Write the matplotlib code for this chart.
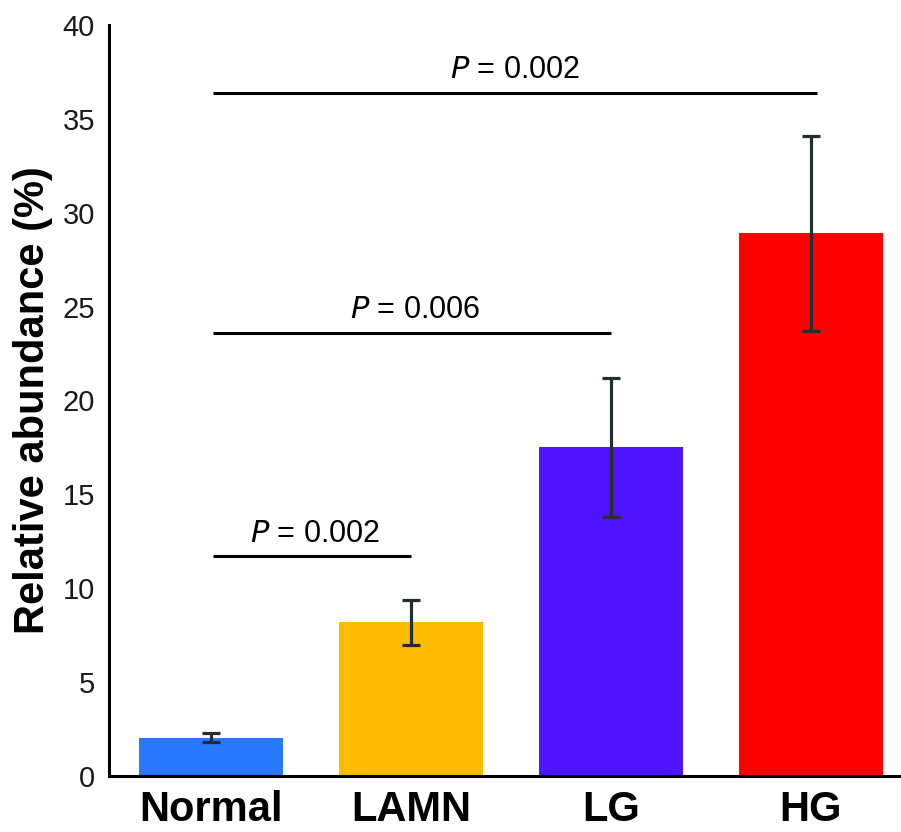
import matplotlib
matplotlib.use("Agg")
import matplotlib.pyplot as plt

categories = ["Normal", "LAMN", "LG", "HG"]
values = [2.05, 8.2, 17.5, 28.9]
errors = [0.25, 1.2, 3.7, 5.2]
colors = ["#2979FF", "#FFBB00", "#4F14FF", "#FF0000"]
yticks = [0, 5, 10, 15, 20, 25, 30, 35, 40]
comparisons = [(0, 1, 11.7, "0.002"), (0, 2, 23.6, "0.006"), (0, 3, 36.4, "0.002")]

plt.rcParams['font.family'] = ['Liberation Sans', 'DejaVu Sans']

fig = plt.figure(figsize=(9.01, 8.32), dpi=100)
ax = fig.add_axes([109/901, 1 - 776/832, (901-109)/901, (776-25)/832])

x = list(range(len(categories)))
ax.bar(x, values, width=0.72, color=colors, zorder=2)
ax.errorbar(x, values, yerr=errors, fmt='none', ecolor='#232E33', elinewidth=2.3,
            capsize=6.3, capthick=2.3, zorder=3)

ax.set_ylim(0, 40)
ax.set_xlim(-0.51, 3.45)
ax.set_yticks(yticks)
ax.set_xticks(x)
ax.set_xticklabels(categories, fontsize=30, fontweight='bold')
ax.tick_params(axis='y', labelsize=21, length=0, pad=10)
ax.tick_params(axis='x', length=0, pad=10)
for lab in ax.get_yticklabels():
    lab.set_color('#1a1a1a')
ax.set_ylabel("Relative abundance (%)", fontsize=30, fontweight='bold', labelpad=7)

for s in ['top', 'right']:
    ax.spines[s].set_visible(False)
ax.spines['left'].set_linewidth(2.2)
ax.spines['bottom'].set_linewidth(2.2)

end_offsets = [0.0, 0.0, 0.03]
for (i, j, y, p), off in zip(comparisons, end_offsets):
    ax.plot([i + 0.01, j + off], [y, y], color='black', lw=2.2, solid_capstyle='butt', clip_on=False)
    ax.text((i + j) / 2 + 0.02, y + 0.4, r"$\it{P}$ = " + p, ha='center', va='bottom', fontsize=22)

fig.savefig("out.png", dpi=100)
